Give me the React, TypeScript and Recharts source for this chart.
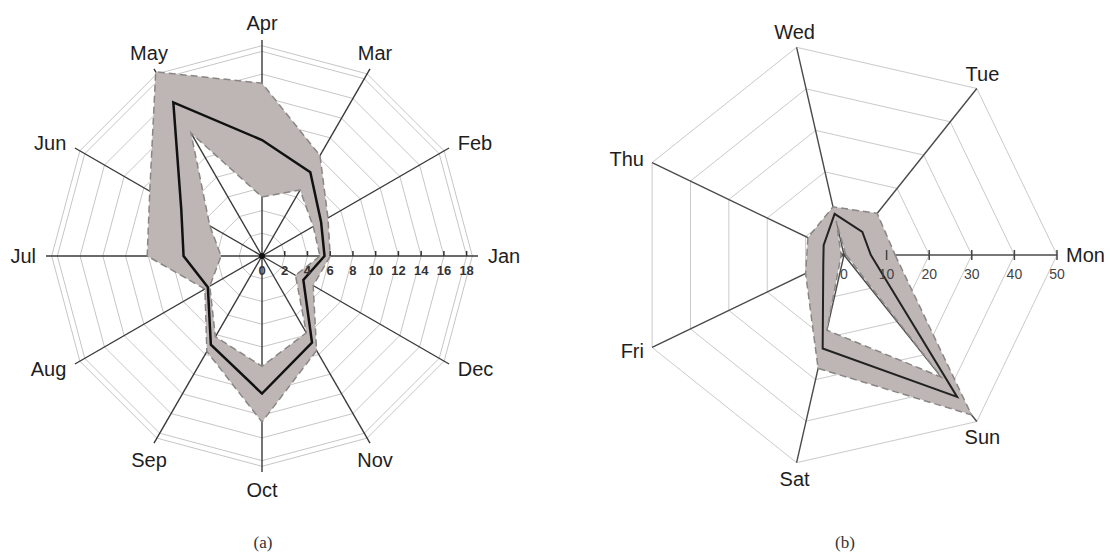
import { RadarChart, Radar, PolarGrid, PolarAngleAxis, PolarRadiusAxis } from 'recharts';

// (a) monthly values: lower bound, mean, upper bound
const months = ['Jan', 'Feb', 'Mar', 'Apr', 'May', 'Jun', 'Jul', 'Aug', 'Sep', 'Oct', 'Nov', 'Dec'];
const monthLow = [5.1, 5.2, 6.7, 5.2, 12.5, 5.3, 3.6, 5.3, 8.2, 9.7, 7.8, 3.4];
const monthMean = [5.5, 6.0, 8.5, 10.2, 15.6, 8.2, 6.9, 5.5, 9.0, 12.1, 8.8, 4.2];
const monthHigh = [6.0, 6.7, 10.2, 15.2, 18.7, 11.4, 10.1, 5.8, 9.7, 14.6, 9.6, 5.2];
const monthTicks = [0, 2, 4, 6, 8, 10, 12, 14, 16, 18];
const monthRings = [...monthTicks, 18.5];

// (b) weekday values
const days = ['Mon', 'Tue', 'Wed', 'Thu', 'Fri', 'Sat', 'Sun'];
const dayLow = [0.5, 0.5, 8.2, 0.8, 0.8, 18.1, 36.7];
const dayMean = [6.3, 6.9, 9.9, 5.3, 5.4, 22.5, 42.6];
const dayHigh = [12.0, 12.5, 11.6, 9.4, 10.0, 27.3, 48.0];
const dayTicks = [0, 10, 20, 30, 40, 50];

// the charts run counter-clockwise from 3 o'clock; recharts goes clockwise,
// so keep the first category and feed the rest in reverse
const ccw = (n: number) => [0, ...Array.from({ length: n - 1 }, (_, k) => n - 1 - k)];

const monthData = ccw(months.length).map((i) => ({
  name: months[i], band: [monthLow[i], monthHigh[i]], mean: monthMean[i],
}));
const dayData = ccw(days.length).map((i) => ({
  name: days[i], band: [dayLow[i], dayHigh[i]], mean: dayMean[i],
}));

const SANS = '"Liberation Sans", Arial, sans-serif';

// category labels placed outside the spokes
const AngleTick = (props: any) => {
  const { x, y, payload } = props;
  const a = (payload.coordinate * Math.PI) / 180;
  const ux = Math.cos(a);
  const uy = -Math.sin(a);
  let anchor = 'middle';
  let dy = 0;
  if (Math.abs(ux) > 0.8) {
    anchor = ux > 0 ? 'start' : 'end';
    dy = 7;
  } else if (uy > 0) {
    dy = 15;
  }
  return (
    <text x={x} y={y + dy} textAnchor={anchor} fontSize={20} fill="#1e1e1e" fontFamily={SANS}>
      {payload.value}
    </text>
  );
};

const MonthRadiusTick = (props: any) => {
  const { x, y, payload } = props;
  if (!monthTicks.includes(payload.value)) return <g />;
  return (
    <g>
      {payload.value === 0 ? (
        <circle cx={x} cy={y} r={3} fill="#111" />
      ) : (
        <line x1={x} x2={x} y1={y - 5} y2={y} stroke="#333" strokeWidth={1.5} />
      )}
      <text x={x} y={y + 19} textAnchor="middle" fontSize={13} fontWeight="bold" fill="#333" fontFamily={SANS}>
        {payload.value}
      </text>
    </g>
  );
};

const DayRadiusTick = (props: any) => {
  const { x, y, payload } = props;
  return (
    <g>
      {payload.value !== 0 && <line x1={x} x2={x} y1={y - 5} y2={y + 5} stroke="#444" strokeWidth={1.5} />}
      <text x={x} y={y + 24} textAnchor="middle" fontSize={14} fill="#444" fontFamily={SANS}>
        {payload.value}
      </text>
    </g>
  );
};

const noMargin = { top: 0, right: 0, bottom: 0, left: 0 };

export default function App() {
  return (
    <div style={{ position: 'absolute', left: 0, top: 0, width: 1110, height: 560, background: '#fff' }}>
      <div style={{ position: 'absolute', left: 0, top: 0 }}>
        <RadarChart width={530} height={520} data={monthData} cx={262} cy={256} outerRadius={216}
          startAngle={0} endAngle={-360} margin={noMargin}>
          <PolarGrid gridType="polygon" radialLines={false} stroke="#c9c5c5" />
          <PolarAngleAxis dataKey="name" tick={AngleTick} tickLine={false} axisLine={false} tickSize={10} />
          <Radar dataKey="band" fill="#bdb6b4" fillOpacity={1} stroke="#8a8686" strokeWidth={1.5}
            strokeDasharray="7 4" dot={false} isAnimationActive={false} />
          <PolarGrid polarRadius={[]} radialLines stroke="#3a3a3a" strokeWidth={1.4} />
          <Radar dataKey="mean" fill="none" fillOpacity={0} stroke="#111" strokeWidth={2.5}
            dot={false} isAnimationActive={false} />
          <PolarRadiusAxis angle={0} type="number" domain={[0, 18.9]} ticks={monthRings}
            tick={MonthRadiusTick} axisLine={false} />
        </RadarChart>
      </div>
      <div style={{ position: 'absolute', left: 580, top: 0 }}>
        <RadarChart width={530} height={520} data={dayData} cx={264} cy={255} outerRadius={213}
          startAngle={0} endAngle={-360} margin={noMargin}>
          <PolarGrid gridType="polygon" radialLines={false} stroke="#cacaca" />
          <PolarAngleAxis dataKey="name" tick={AngleTick} tickLine={false} axisLine={false} tickSize={9} />
          <Radar dataKey="band" fill="#bdb6b4" fillOpacity={1} stroke="#8a8686" strokeWidth={1.5}
            strokeDasharray="7 4" dot={false} isAnimationActive={false} />
          <PolarGrid polarRadius={[]} radialLines stroke="#4a4a4a" strokeWidth={1.4} />
          <Radar dataKey="mean" fill="none" fillOpacity={0} stroke="#222" strokeWidth={2}
            dot={false} isAnimationActive={false} />
          <PolarRadiusAxis angle={0} type="number" domain={[0, 50]} ticks={dayTicks}
            tick={DayRadiusTick} axisLine={false} />
        </RadarChart>
      </div>
      <div style={{ position: 'absolute', left: 213, top: 533, width: 100, textAlign: 'center',
        fontFamily: '"Liberation Serif", serif', fontSize: 17, color: '#333' }}>(a)</div>
      <div style={{ position: 'absolute', left: 795, top: 533, width: 100, textAlign: 'center',
        fontFamily: '"Liberation Serif", serif', fontSize: 17, color: '#333' }}>(b)</div>
    </div>
  );
}
